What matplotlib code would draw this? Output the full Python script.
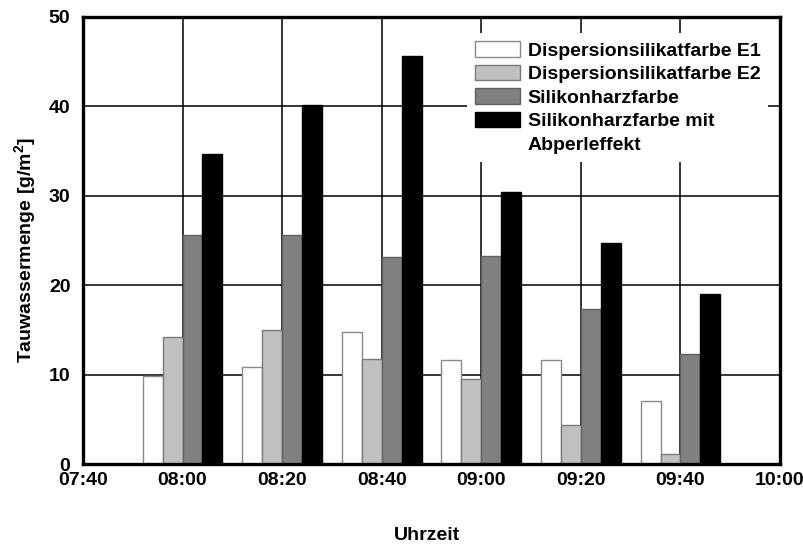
import matplotlib
matplotlib.use("Agg")
import matplotlib.pyplot as plt
from matplotlib.patches import Rectangle
import numpy as np

plt.rcParams['font.family'] = ['Liberation Sans', 'DejaVu Sans']
plt.rcParams['font.weight'] = 'bold'
plt.rcParams['mathtext.fontset'] = 'custom'
plt.rcParams['mathtext.rm'] = 'Liberation Sans:bold'
plt.rcParams['mathtext.bf'] = 'Liberation Sans:bold'

times = ["08:00", "08:20", "08:40", "09:00", "09:20", "09:40"]
tick_labels = ["07:40", "08:00", "08:20", "08:40", "09:00", "09:20", "09:40", "10:00"]
series = ["Dispersionsilikatfarbe E1", "Dispersionsilikatfarbe E2",
          "Silikonharzfarbe", "Silikonharzfarbe mit Abperleffekt"]
e1 = [9.8, 10.9, 14.8, 11.6, 11.6, 7.0]
e2 = [14.2, 15.0, 11.8, 9.5, 4.4, 1.1]
sh = [25.6, 25.6, 23.2, 23.3, 17.3, 12.3]
sha = [34.7, 40.1, 45.6, 30.4, 24.7, 19.0]
values = [e1, e2, sh, sha]

colors = ["#ffffff", "#c0c0c0", "#808080", "#000000"]
edges = ["#8a8a8a", "#7a7a7a", "#606060", "#000000"]

def to_min(s):
    h, m = s.split(":")
    return int(h) * 60 + int(m)

x = np.array([to_min(t) for t in times], dtype=float)
ticks = np.array([to_min(t) for t in tick_labels], dtype=float)
width = 4.0

fig = plt.figure(figsize=(8.04, 5.44), dpi=100)
ax = fig.add_axes([0.1032, 0.147, 0.867, 0.822])

handles = []
for i, (vals, c, ec, lab) in enumerate(zip(values, colors, edges, series)):
    b = ax.bar(x + (i - 1.5) * width, vals, width=width, color=c, edgecolor=ec,
               linewidth=1.0, label=lab, zorder=3)
    handles.append(b)

ax.set_xlim(ticks[0], ticks[-1])
ax.set_ylim(0, 50)
ax.set_xticks(ticks)
ax.set_xticklabels(tick_labels)
ax.set_yticks([0, 10, 20, 30, 40, 50])
ax.grid(True, color="black", linewidth=1.1, zorder=0)
ax.set_axisbelow(True)
for sp in ax.spines.values():
    sp.set_linewidth(2.4)
    sp.set_zorder(5)
ax.tick_params(axis='both', length=0, labelsize=14)
ax.tick_params(axis='y', pad=9)
ax.tick_params(axis='x', pad=6)

ax.set_xlabel("Uhrzeit", fontsize=14, fontweight='bold', labelpad=27)
ax.xaxis.label.set_x(0.494)
ax.set_ylabel("Tauwassermenge [g/m$^\\mathbf{2}$]", fontsize=14, fontweight='bold', labelpad=7)
ax.yaxis.label.set_y(0.478)

# legend: last label wrapped onto a second row without a handle
leg_labels = series[:3]
first, second = series[3].split(" mit ")
leg_labels = leg_labels + [first + " mit", second]
leg_handles = handles + [Rectangle((0, 0), 1, 1, fill=False, edgecolor='none', linewidth=0)]

leg = ax.legend(leg_handles, leg_labels, loc='upper right', bbox_to_anchor=(0.997, 0.985),
                fontsize=14, frameon=True, facecolor='white', edgecolor='none',
                framealpha=1, fancybox=False, handlelength=2.3, handleheight=0.85,
                handletextpad=0.4, labelspacing=0.26, borderpad=0.4)
leg.set_zorder(4)

fig.savefig("out.png", dpi=100)
